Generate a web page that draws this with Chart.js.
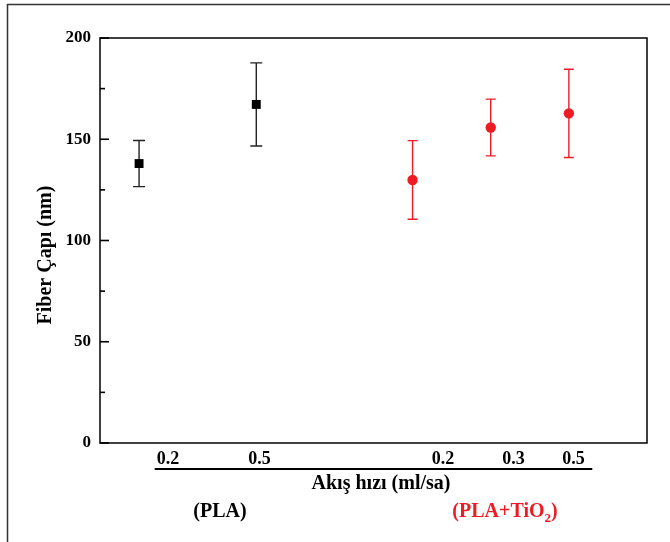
<!DOCTYPE html>
<html>
<head>
<meta charset="utf-8">
<script src="https://cdn.jsdelivr.net/npm/chart.js@4.4.1/dist/chart.umd.min.js"></script>
<style>
  html, body { margin: 0; padding: 0; background: #fff; }
  #wrap { width: 670px; height: 542px; }
</style>
</head>
<body>
<div id="wrap"><canvas id="myChart"></canvas></div>
<script>
// PLA
const plaX = [0.5, 2];
const plaMean = [138, 167.2];
const plaSd = [11.4, 20.5];

// PLA+TiO2
const tioX = [4, 5, 6];
const tioMean = [129.9, 155.8, 162.8];
const tioSd = [19.4, 14, 21.8];

const yTicks = [0, 50, 100, 150, 200];
const yMinorTicks = [25, 75, 125, 175];
const flowLabels = ['0.2', '0.5', '0.2', '0.3', '0.5'];
const flowLabelAt = [0.87, 2.04, 4.39, 5.29, 6.06];

const RED = '#ed1c24';
const FONT = '"Liberation Serif", "Times New Roman", serif';

const toPts = (xs, ys) => xs.map((x, i) => ({ x: x, y: ys[i] }));

// error bars, drawn under the markers
const errorBars = {
  id: 'errorBars',
  beforeDatasetsDraw(chart) {
    const ctx = chart.ctx;
    const y = chart.scales.y;
    const x = chart.scales.x;
    const sets = [
      { xs: plaX, m: plaMean, sd: plaSd, color: '#222', cap: 6 },
      { xs: tioX, m: tioMean, sd: tioSd, color: RED, cap: 5 }
    ];
    ctx.save();
    ctx.lineWidth = 1.4;
    sets.forEach(s => {
      ctx.strokeStyle = s.color;
      s.xs.forEach((xv, i) => {
        const px = x.getPixelForValue(xv);
        const top = y.getPixelForValue(s.m[i] + s.sd[i]);
        const bot = y.getPixelForValue(s.m[i] - s.sd[i]);
        ctx.beginPath();
        ctx.moveTo(px, top); ctx.lineTo(px, bot);
        ctx.moveTo(px - s.cap, top); ctx.lineTo(px + s.cap, top);
        ctx.moveTo(px - s.cap, bot); ctx.lineTo(px + s.cap, bot);
        ctx.stroke();
      });
    });
    ctx.restore();
  }
};

// frame, inner ticks and the grouped labels under the axis
const decor = {
  id: 'decor',
  afterDraw(chart) {
    const ctx = chart.ctx;
    const a = chart.chartArea;
    const x = chart.scales.x;
    const y = chart.scales.y;
    ctx.save();

    // outer frame (left + top only)
    ctx.strokeStyle = '#333';
    ctx.lineWidth = 1.5;
    ctx.beginPath();
    ctx.moveTo(7.5, 542); ctx.lineTo(7.5, 4.5); ctx.lineTo(670, 4.5);
    ctx.stroke();

    // plot box
    ctx.strokeStyle = '#000';
    ctx.lineWidth = 1.5;
    ctx.strokeRect(a.left, a.top, a.right - a.left, a.bottom - a.top);

    // y ticks pointing inwards
    ctx.fillStyle = '#000';
    yTicks.forEach(v => {
      const py = y.getPixelForValue(v);
      ctx.fillRect(a.left, py - 0.8, 9, 1.6);
    });
    yMinorTicks.forEach(v => {
      const py = y.getPixelForValue(v);
      ctx.fillRect(a.left, py - 0.8, 5, 1.6);
    });

    // flow rate labels + underline
    ctx.fillStyle = '#000';
    ctx.textAlign = 'center';
    ctx.textBaseline = 'middle';
    ctx.font = 'bold 18px ' + FONT;
    flowLabels.forEach((t, i) => {
      ctx.fillText(t, x.getPixelForValue(flowLabelAt[i]), 459);
    });
    ctx.lineWidth = 2;
    ctx.beginPath();
    ctx.moveTo(x.getPixelForValue(0.70), 469);
    ctx.lineTo(x.getPixelForValue(6.30), 469);
    ctx.stroke();

    // axis title
    ctx.font = 'bold 20px ' + FONT;
    ctx.fillText('Akış hızı (ml/sa)', 381, 484);

    // group names
    ctx.fillText('(PLA)', 220, 512);
    ctx.fillStyle = RED;
    ctx.textAlign = 'left';
    const w1 = ctx.measureText('(PLA+TiO').width;
    const w2 = ctx.measureText(')').width;
    ctx.font = 'bold 13px ' + FONT;
    const ws = ctx.measureText('2').width;
    const start = 505 - (w1 + ws + w2) / 2;
    ctx.font = 'bold 20px ' + FONT;
    ctx.fillText('(PLA+TiO', start, 512);
    ctx.fillText(')', start + w1 + ws, 512);
    ctx.font = 'bold 13px ' + FONT;
    ctx.fillText('2', start + w1, 519);

    // y title
    ctx.fillStyle = '#000';
    ctx.textAlign = 'center';
    ctx.font = 'bold 20px ' + FONT;
    ctx.translate(46, 255);
    ctx.rotate(-Math.PI / 2);
    ctx.fillText('Fiber Çapı (nm)', 0, 0);
    ctx.restore();
  }
};

const config = {
  type: 'scatter',
  data: {
    datasets: [
      {
        label: 'PLA',
        data: toPts(plaX, plaMean),
        pointStyle: 'rect',
        pointRadius: 6.3,
        pointHoverRadius: 6.3,
        backgroundColor: '#000',
        borderColor: '#000',
        borderWidth: 0
      },
      {
        label: 'PLA+TiO2',
        data: toPts(tioX, tioMean),
        pointStyle: 'circle',
        pointRadius: 5.2,
        pointHoverRadius: 5.2,
        backgroundColor: RED,
        borderColor: RED,
        borderWidth: 0
      }
    ]
  },
  options: {
    responsive: true,
    maintainAspectRatio: false,
    animation: false,
    layout: { padding: { top: 38, right: 23, left: 0, bottom: 0 } },
    plugins: {
      legend: { display: false },
      tooltip: { enabled: false }
    },
    scales: {
      x: {
        type: 'linear',
        min: 0,
        max: 7,
        ticks: { display: false },
        grid: { display: false },
        border: { display: false },
        afterFit: s => { s.height = 99; }
      },
      y: {
        min: 0,
        max: 200,
        afterBuildTicks: s => { s.ticks = yTicks.map(v => ({ value: v })); },
        ticks: {
          padding: 1,
          color: '#000',
          font: { family: FONT, size: 17, weight: 'bold' }
        },
        grid: { display: false },
        border: { display: false },
        afterFit: s => { s.width = 100; }
      }
    }
  },
  plugins: [errorBars, decor]
};

const ctx = document.getElementById('myChart');
const myChart = new Chart(ctx, config);
</script>
</body>
</html>
